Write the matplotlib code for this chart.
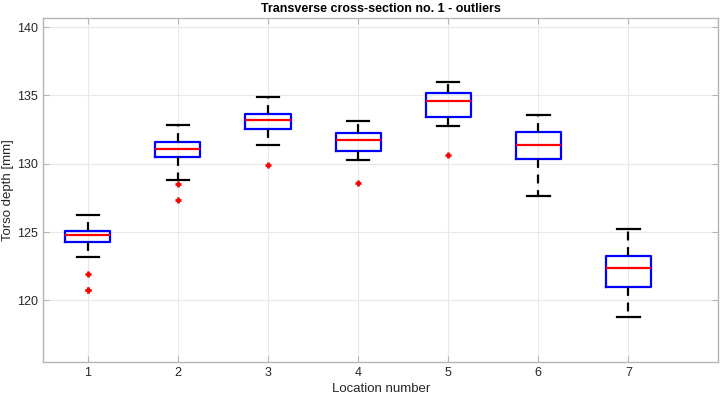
import matplotlib
matplotlib.use("Agg")
import matplotlib.pyplot as plt

plt.rcParams["font.family"] = ["Liberation Sans", "DejaVu Sans"]

# Box statistics (mm)
locations = [1, 2, 3, 4, 5, 6, 7]
medians = [124.78, 131.08, 133.2, 131.73, 134.56, 131.34, 122.39]
q1 = [124.29, 130.49, 132.56, 130.95, 133.44, 130.34, 120.98]
q3 = [125.10, 131.59, 133.66, 132.27, 135.19, 132.34, 123.22]
whisk_lo = [123.18, 128.83, 131.40, 130.27, 132.76, 127.61, 118.81]
whisk_hi = [126.27, 132.83, 134.90, 133.15, 135.98, 133.58, 125.22]
outliers = [
    [121.95, 120.73, 120.80],
    [128.51, 127.32],
    [129.9],
    [128.59],
    [130.66],
    [],
    [],
]

stats = []
for i in range(len(locations)):
    stats.append({
        "med": medians[i],
        "q1": q1[i],
        "q3": q3[i],
        "whislo": whisk_lo[i],
        "whishi": whisk_hi[i],
        "fliers": outliers[i],
    })

fig = plt.figure(figsize=(7.25, 4.01), dpi=100)
ax = fig.add_axes([0.059, 0.0973, 0.932, 0.859])

ax.bxp(
    stats,
    positions=locations,
    widths=0.5,
    boxprops=dict(color="blue", linewidth=1.6),
    medianprops=dict(color="red", linewidth=1.6),
    whiskerprops=dict(color="black", linewidth=1.6, linestyle=(0, (4, 3))),
    capprops=dict(color="black", linewidth=1.6),
    flierprops=dict(marker="+", markeredgecolor="red", markersize=5, markeredgewidth=2),
    capwidths=0.25,
)

ax.set_xlim(0.5, 8)
ax.set_ylim(115.5, 140.7)
ax.set_xticks(locations)
ax.set_xticklabels([str(l) for l in locations])
ax.set_yticks([120, 125, 130, 135, 140])

ax.grid(True, color="#e8e8e8", linewidth=0.8)
ax.set_axisbelow(True)
for s in ax.spines.values():
    s.set_color("#b5b5b5")
    s.set_linewidth(1.0)
ax.tick_params(direction="in", length=4, color="#b5b5b5", labelcolor="#262626",
               labelsize=9, top=True, right=True)

ax.set_xlabel("Location number", fontsize=9.5, color="#262626", labelpad=3)
ax.set_ylabel("Torso depth [mm]", fontsize=9.5, color="#262626", labelpad=2)
ax.set_title("Transverse cross-section no. 1 - outliers", fontsize=9,
             fontweight="bold", color="black", pad=4)

fig.savefig("out.png", dpi=100)
